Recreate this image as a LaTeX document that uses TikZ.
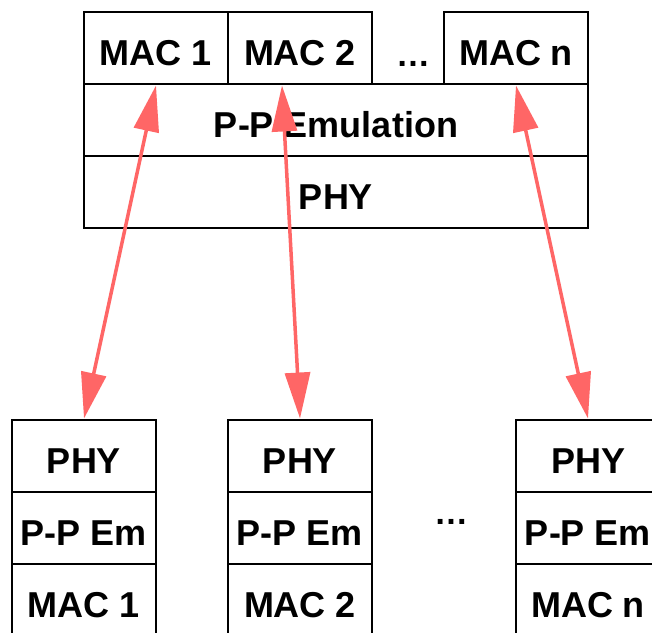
\documentclass[tikz,border=0pt]{standalone}
\usepackage{fontspec}
\setmainfont{Liberation Sans}
\usetikzlibrary{arrows.meta}
\definecolor{linkred}{HTML}{FF6666}
\begin{document}
\begin{tikzpicture}[x=1pt,y=-1pt,
  layer/.style={draw, line width=2.9pt, minimum width=144pt, minimum height=72pt,
    inner sep=0pt, text height=36pt, text depth=2pt,
    font=\fontsize{36}{40}\selectfont\bfseries},
  widelayer/.style={layer, minimum width=504pt},
  gapdots/.style={inner sep=0pt, anchor=base, font=\fontsize{34}{40}\selectfont\bfseries},
  link/.style={draw=linkred, line width=3.5pt,
    {Triangle[length=46pt,width=25pt]}-{Triangle[length=46pt,width=25pt]}}
]
\useasboundingbox (0,0) rectangle (652,632);
\clip (0,0) rectangle (652,632);

% shared side: one MAC per link over a point-to-point emulation layer
\node[layer] (mac1) at (156,48) {MAC 1};
\node[layer] (mac2) at (300,48) {MAC 2};
\node[gapdots] (topdots) at (413,66) {…};
\node[layer] (macn) at (516,48) {MAC n};
\node[widelayer] (ppemu) at (336,120) {P-P Emulation};
\node[widelayer] (phy) at (336,192) {PHY};

% remote stations
\node[layer] (phy1) at (84,456) {PHY};
\node[layer] (ppem1) at (84,528) {P-P Em};
\node[layer] (mac1b) at (84,600) {MAC 1};

\node[layer] (phy2) at (300,456) {PHY};
\node[layer] (ppem2) at (300,528) {P-P Em};
\node[layer] (mac2b) at (300,600) {MAC 2};

\node[gapdots] (botdots) at (451,524) {…};

\node[layer] (phyn) at (588,456) {PHY};
\node[layer] (ppemn) at (588,528) {P-P Em};
\node[layer] (macnb) at (588,600) {MAC n};

% logical links
\draw[link] (mac1.south) -- (phy1.north);
\draw[link] ([xshift=-18pt]mac2.south) -- (phy2.north);
\draw[link] (macn.south) -- (phyn.north);
\end{tikzpicture}
\end{document}
